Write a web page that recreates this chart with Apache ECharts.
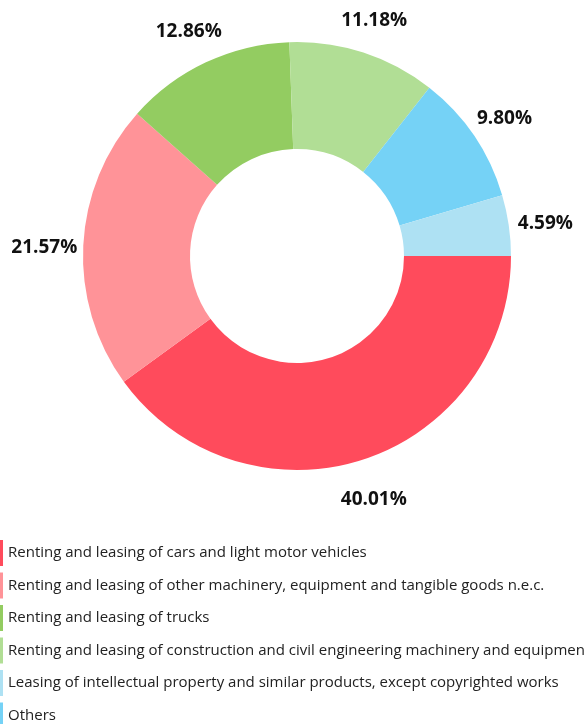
<!DOCTYPE html>
<html>
<head>
<meta charset="utf-8">
<script src="https://cdn.jsdelivr.net/npm/echarts@6/dist/echarts.min.js"></script>
<style>
html,body{margin:0;padding:0;background:#fff;}
#chart{width:584px;height:724px;}
</style>
</head>
<body>
<div id="chart"></div>
<script>
const categories = [
  "Renting and leasing of cars and light motor vehicles",
  "Renting and leasing of other machinery, equipment and tangible goods n.e.c.",
  "Renting and leasing of trucks",
  "Renting and leasing of construction and civil engineering machinery and equipment",
  "Others",
  "Leasing of intellectual property and similar products, except copyrighted works"
];
const shares = [40.01, 21.57, 12.86, 11.18, 9.80, 4.59];
const colors = ["#FF4B5C", "#FF9398", "#93CC61", "#B1DE95", "#75D2F6", "#AEE1F3"];
const legendOrder = [
  "Renting and leasing of cars and light motor vehicles",
  "Renting and leasing of other machinery, equipment and tangible goods n.e.c.",
  "Renting and leasing of trucks",
  "Renting and leasing of construction and civil engineering machinery and equipment",
  "Leasing of intellectual property and similar products, except copyrighted works",
  "Others"
];

const mainData = categories.map((c, i) => ({ name: c, value: shares[i], itemStyle: { color: colors[i] } }));
const labelData = categories.map((c, i) => ({ name: c, value: shares[i] }));

const chart = echarts.init(document.getElementById('chart'), null, { renderer: 'canvas' });
chart.setOption({
  animation: false,
  backgroundColor: '#ffffff',
  legend: {
    orient: 'vertical',
    left: 0,
    top: 540,
    height: 300,
    padding: 0,
    itemWidth: 3,
    itemHeight: 26,
    itemGap: 6.5,
    icon: 'rect',
    selectedMode: false,
    data: legendOrder,
    textStyle: { fontFamily: 'Open Sans', fontSize: 15, color: '#222' }
  },
  series: [
    {
      type: 'pie',
      center: [297, 256],
      radius: [107, 214],
      startAngle: 0,
      clockwise: true,
      silent: true,
      label: { show: false },
      labelLine: { show: false },
      data: mainData
    },
    {
      type: 'pie',
      center: [296, 260],
      radius: [229, 269],
      startAngle: 0,
      clockwise: true,
      silent: true,
      itemStyle: { color: 'rgba(0,0,0,0)' },
      label: {
        show: true,
        position: 'inside',
        formatter: p => p.value.toFixed(2) + '%',
        fontFamily: 'Open Sans',
        fontWeight: 'bold',
        fontSize: 19,
        color: '#111'
      },
      labelLine: { show: false },
      data: labelData
    }
  ]
});
</script>
</body>
</html>
